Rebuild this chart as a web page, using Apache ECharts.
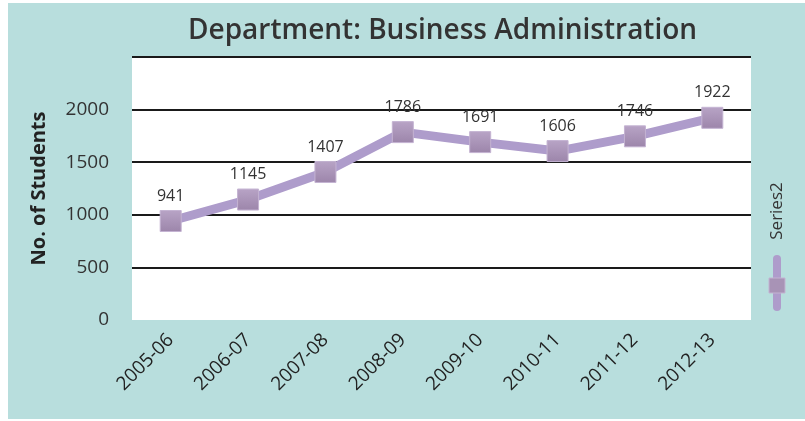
<!DOCTYPE html>
<html>
<head>
<meta charset="utf-8">
<script src="https://cdn.jsdelivr.net/npm/echarts@6/dist/echarts.min.js"></script>
<style>
html,body{margin:0;padding:0;background:#fff;}
#chart{position:absolute;left:8px;top:3px;width:797px;height:416px;}
</style>
</head>
<body>
<div id="chart"></div>
<script>
const categories = ['2005-06','2006-07','2007-08','2008-09','2009-10','2010-11','2011-12','2012-13'];
const series2 = [941, 1145, 1407, 1786, 1691, 1606, 1746, 1922];
const titleText = 'Department: Business Administration';
const yAxisName = 'No. of Students';
const seriesName = 'Series2';

const chart = echarts.init(document.getElementById('chart'));
const fontFam = '"Open Sans", "Noto Sans", sans-serif';
chart.setOption({
  backgroundColor: '#b8dedd',
  title: {
    text: titleText, top: 14, left: 180, padding: 0,
    textStyle: {fontFamily: fontFam, fontWeight: 600, fontSize: 28, color: '#333'}
  },
  grid: {left: 124, right: 54, top: 54, bottom: 99, show: true, backgroundColor: '#ffffff', borderWidth: 0},
  xAxis: {
    type: 'category', data: categories, boundaryGap: true,
    axisLine: {show: false}, axisTick: {show: false},
    axisLabel: {rotate: 45, fontFamily: fontFam, fontSize: 19, color: '#222', margin: 17}
  },
  yAxis: {
    type: 'value', min: 0, max: 2500, interval: 500,
    name: yAxisName, nameLocation: 'middle', nameGap: 83,
    nameTextStyle: {fontFamily: fontFam, fontWeight: 'bold', fontSize: 20, color: '#222'},
    axisLine: {show: false}, axisTick: {show: false},
    axisLabel: {fontFamily: fontFam, fontSize: 19, color: '#333', margin: 23,
      formatter: v => v === 2500 ? '' : String(v)},
    splitLine: {show: true, showMinLine: false, lineStyle: {color: '#1a1a1a', width: 2}}
  },
  series: [{
    name: seriesName, type: 'line', data: series2,
    symbol: 'rect', symbolSize: 21,
    lineStyle: {color: '#ae9ccb', width: 9},
    itemStyle: {
      color: new echarts.graphic.LinearGradient(0, 0, 0, 1, [
        {offset: 0, color: '#b8a4c6'}, {offset: 1, color: '#9c85aa'}]),
      borderColor: '#c4b3d2', borderWidth: 1
    },
    label: {show: true, position: 'top', distance: 6, fontFamily: fontFam, fontSize: 16, color: '#333'},
    z: 3
  }],
  graphic: [
    {type: 'text', rotation: Math.PI / 2, x: 769, y: 208,
      style: {text: seriesName, fontFamily: fontFam, fontSize: 17, fill: '#333', textAlign: 'center', textVerticalAlign: 'middle'}},
    {type: 'line', shape: {x1: 769, y1: 256, x2: 769, y2: 304}, style: {stroke: '#ae9ccb', lineWidth: 8, lineCap: 'round'}},
    {type: 'rect', shape: {x: 761, y: 275, width: 16, height: 15},
      style: {fill: '#a893b6', stroke: '#c4b3d2', lineWidth: 1}}
  ]
});
</script>
</body>
</html>
